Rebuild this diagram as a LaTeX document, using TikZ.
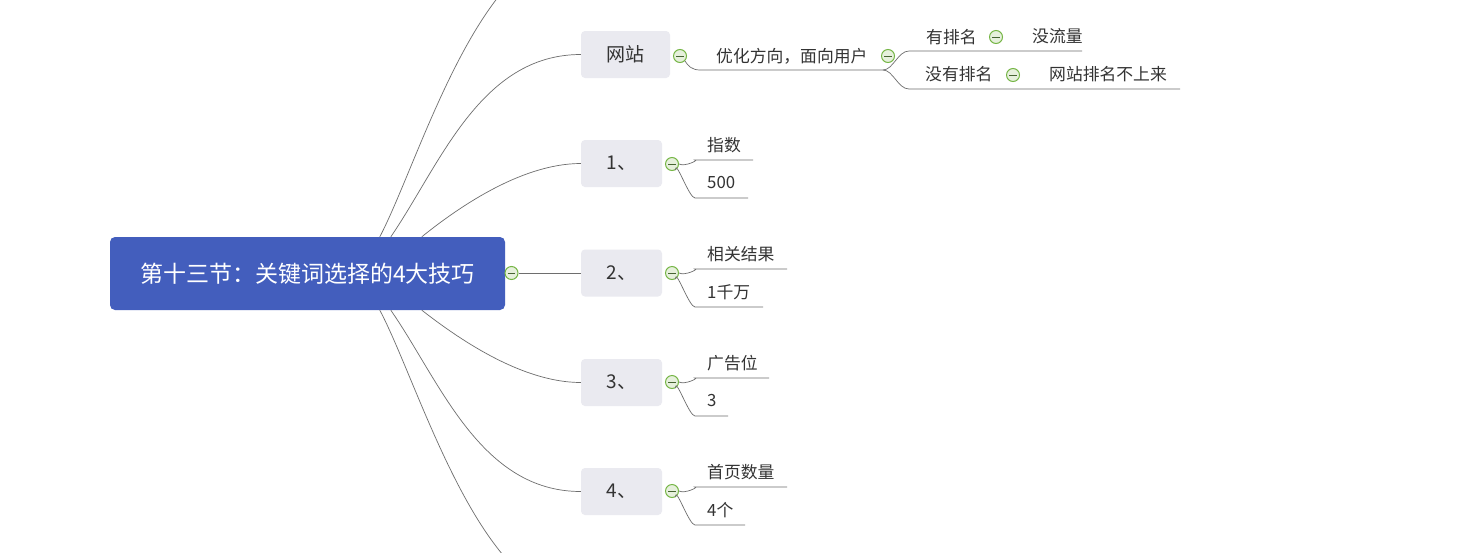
\documentclass[tikz,border=0pt]{standalone}
\usepackage{fontspec}
\setmainfont{Noto Sans CJK SC}
\definecolor{rootblue}{RGB}{67,94,189}
\definecolor{topicgray}{RGB}{234,234,240}
\definecolor{txt}{RGB}{51,51,51}
\definecolor{conncol}{RGB}{110,110,110}
\definecolor{toggreen}{RGB}{118,182,70}
\definecolor{togfill}{RGB}{230,240,220}
\definecolor{togminus}{RGB}{70,100,50}
\tikzset{
  root/.style={fill=rootblue, text=white, rounded corners=5pt, inner sep=0pt,
    minimum width=395pt, minimum height=73pt, font=\fontsize{23}{27}\selectfont},
  topic/.style={fill=topicgray, text=txt, rounded corners=4pt, inner sep=0pt,
    minimum width=81pt, minimum height=47pt, font=\fontsize{19}{23}\selectfont},
  leaf/.style={text=txt, inner sep=0pt, anchor=west, font=\fontsize{16.8}{20}\selectfont},
  tog/.style={circle, draw=toggreen, fill=togfill, line width=1pt, minimum size=13pt, inner sep=0pt,
    path picture={\draw[togminus, line width=1pt] ([xshift=-3.8pt]path picture bounding box.center) -- ([xshift=3.8pt]path picture bounding box.center);}},
  conn/.style={draw=conncol, line width=0.7pt},
}
\begin{document}
\begin{tikzpicture}[x=1pt,y=-1pt]
\clip (0,0) rectangle (1458,552);
\fill[white] (0,0) rectangle (1458,552);

% root
\node[root] (root) at (307.5,273.5) {第十三节：关键词选择的4大技巧};
\node[tog] (t0) at (511.5,273) {};

% main topics
\node[topic, minimum width=89pt] (w) at (625.5,54.5) {网站};
\node[topic] (c1) at (621.5,163.5) {1、};
\node[topic] (c2) at (621.5,273) {2、};
\node[topic] (c3) at (621.5,382.5) {3、};
\node[topic] (c4) at (621.5,491.5) {4、};
\coordinate (offtop) at (582,-55);
\coordinate (offbot) at (582,601);

% root connectors
\draw[conn] ([xshift=270pt]root.north west) .. controls (420,160) and (480,-55) .. (offtop);
\draw[conn] ([xshift=281pt]root.north west) .. controls (440,165) and (480,54.5) .. (w.west);
\draw[conn] ([xshift=312pt]root.north west) .. controls (455,210) and (520,163.5) .. (c1.west);
\draw[conn] (t0.east) -- (c2.west);
\draw[conn] ([xshift=312pt]root.south west) .. controls (455,336) and (520,382.5) .. (c3.west);
\draw[conn] ([xshift=281pt]root.south west) .. controls (440,381) and (480,491.5) .. (c4.west);
\draw[conn] ([xshift=270pt]root.south west) .. controls (420,386) and (480,601) .. (offbot);

% toggles of numbered topics
\foreach \i/\y in {1/164,2/273,3/382,4/491}{
  \node[tog] (t\i) at (672,\y) {};
}

% leaves 1
\node[leaf] (l1a) at (707,145) {指数};
\node[leaf] (l1b) at (707,183) {500};
% leaves 2
\node[leaf] (l2a) at (707,254) {相关结果};
\node[leaf] (l2b) at (707,292) {1千万};
% leaves 3
\node[leaf] (l3a) at (707,363) {广告位};
\node[leaf] (l3b) at (707,401) {3};
% leaves 4
\node[leaf] (l4a) at (707,472) {首页数量};
\node[leaf] (l4b) at (707,510) {4个};

% underline end coordinates
\coordinate (e1a) at (753,160); \coordinate (e1b) at (748,198);
\coordinate (e2a) at (787,269); \coordinate (e2b) at (763,307);
\coordinate (e3a) at (769,378); \coordinate (e3b) at (728,416);
\coordinate (e4a) at (787,487); \coordinate (e4b) at (745,525);

\foreach \i in {1,2,3,4}{
  \draw[conn] (t\i.east) .. controls ([xshift=6pt,yshift=-3pt]t\i.east) and ([xshift=-8pt]l\i a.south west |- e\i a) .. ([xshift=-12pt]l\i a.south west |- e\i a) -- (e\i a);
  \draw[conn] (t\i.-60) .. controls ([yshift=12pt]t\i.-60) and ([xshift=-18pt]l\i b.south west |- e\i b) .. ([xshift=-12pt]l\i b.south west |- e\i b) -- (e\i b);
}

% website subtree
\node[tog] (tw) at (680,56) {};
\node[leaf] (opt) at (716,56) {优化方向，面向用户};
\node[tog] (to) at (888,56) {};
\coordinate (ju) at (883,70);
\draw[conn] (tw.-45) .. controls (688,66) and (692,70) .. (700,70) -- (ju);

\node[leaf] (r1) at (926,37) {有排名};
\node[tog] (tr1) at (996,37) {};
\node[leaf] (r1c) at (1032,36) {没流量};
\node[leaf] (r2) at (925,74) {没有排名};
\node[tog] (tr2) at (1013,75) {};
\node[leaf] (r2c) at (1049,74) {网站排名不上来};
\coordinate (er1) at (1082,51);
\coordinate (er2) at (1180,89);
\draw[conn] (ju) .. controls (893,70) and (898,51) .. (909,51) -- (er1);
\draw[conn] (ju) .. controls (893,70) and (898,89) .. (909,89) -- (er2);
\end{tikzpicture}
\end{document}
